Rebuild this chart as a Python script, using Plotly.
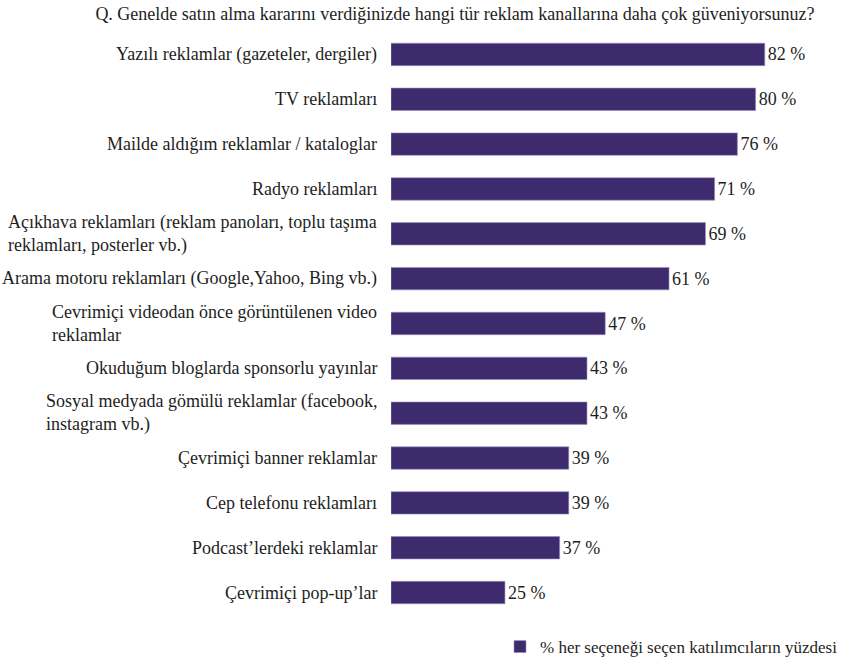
import plotly.graph_objects as go

categories = [
    "Yazılı reklamlar (gazeteler, dergiler)",
    "TV reklamları",
    "Mailde aldığım reklamlar / kataloglar",
    "Radyo reklamları",
    "Açıkhava reklamları (reklam panoları, toplu taşıma<br>reklamları, posterler vb.)",
    "Arama motoru reklamları (Google,Yahoo, Bing vb.)",
    "Cevrimiçi videodan önce görüntülenen video<br>reklamlar",
    "Okuduğum bloglarda sponsorlu yayınlar",
    "Sosyal medyada gömülü reklamlar (facebook,<br>instagram vb.)",
    "Çevrimiçi banner reklamlar",
    "Cep telefonu reklamları",
    "Podcast’lerdeki reklamlar",
    "Çevrimiçi pop-up’lar",
]
values = [82, 80, 76, 71, 69, 61, 47, 43, 43, 39, 39, 37, 25]
series_name = "% her seçeneği seçen katılımcıların yüzdesi"
title_text = "Q. Genelde satın alma kararını verdiğinizde hangi tür reklam kanallarına daha çok güveniyorsunuz?"

FONT = "Liberation Serif"
BAR = "#3d2b6d"
TXT = "#1e1e1e"

fig = go.Figure()
fig.add_trace(go.Bar(
    x=values, y=categories, orientation="h",
    marker=dict(color=BAR, line=dict(color="#9a8fc0", width=0.6)),
    text=[f"{v} %" for v in values], textposition="outside",
    textfont=dict(family=FONT, size=18, color=TXT),
    cliponaxis=False, name=series_name, showlegend=True,
))

for c in categories:
    fig.add_annotation(
        x=0, xref="x", y=c, yref="y", xshift=-12,
        text=c, showarrow=False, xanchor="right", align="left",
        font=dict(family=FONT, size=18, color=TXT),
    )

fig.update_layout(
    width=842, height=666,
    margin=dict(l=391, r=18, t=32, b=51, autoexpand=False),
    paper_bgcolor="white", plot_bgcolor="white",
    bargap=0.5,
    title=dict(text=title_text, x=455/842, xanchor="center", y=1-14/666, yanchor="middle",
               font=dict(family=FONT, size=18, color=TXT)),
    xaxis=dict(range=[0, 95], visible=False),
    yaxis=dict(autorange="reversed", showticklabels=False, showgrid=False,
               zeroline=False, showline=False, ticks=""),
    legend=dict(orientation="h", x=0.2517, xanchor="left", y=-0.024, yanchor="top",
                font=dict(family=FONT, size=17, color=TXT), itemwidth=30),
)

fig.write_html("out.html")
